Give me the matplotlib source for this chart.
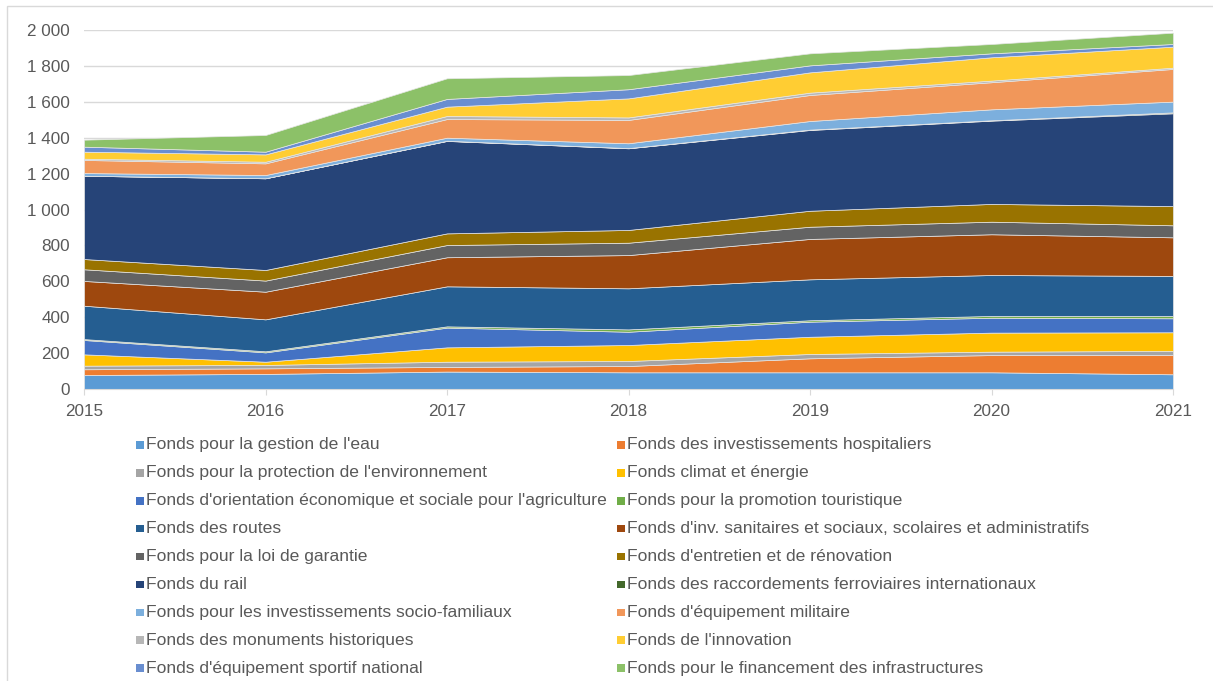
import numpy as np
import matplotlib.pyplot as plt
from matplotlib.patches import Rectangle
from matplotlib.ticker import FuncFormatter

plt.rcParams['font.family'] = ['Liberation Sans', 'DejaVu Sans']

years = [2015, 2016, 2017, 2018, 2019, 2020, 2021]

labels = [
    "Fonds pour la gestion de l'eau",
    "Fonds des investissements hospitaliers",
    "Fonds pour la protection de l'environnement",
    "Fonds climat et énergie",
    "Fonds d'orientation économique et sociale pour l'agriculture",
    "Fonds pour la promotion touristique",
    "Fonds des routes",
    "Fonds d'inv. sanitaires et sociaux, scolaires et administratifs",
    "Fonds pour la loi de garantie",
    "Fonds d'entretien et de rénovation",
    "Fonds du rail",
    "Fonds des raccordements ferroviaires internationaux",
    "Fonds pour les investissements socio-familiaux",
    "Fonds d'équipement militaire",
    "Fonds des monuments historiques",
    "Fonds de l'innovation",
    "Fonds d'équipement sportif national",
    "Fonds pour le financement des infrastructures",
]

# values per fund, 2015..2021
eau = [78, 84, 97, 93, 93, 93, 82]
hospitaliers = [32, 31, 26, 35, 78, 96, 107]
environnement = [20, 19, 29, 28, 24, 19, 23]
climat = [63, 18, 80, 89, 96, 106, 104]
agriculture = [80, 52, 110, 74, 84, 83, 78]
touristique = [5, 6, 7, 13, 8, 10, 13]
routes = [186, 178, 223, 229, 228, 228, 223]
sanitaires = [138, 154, 162, 185, 225, 227, 215]
garantie = [65, 62, 68, 69, 68, 70, 67]
entretien = [57, 59, 65, 71, 89, 99, 107]
rail = [464, 511, 515, 455, 450, 464, 517]
raccordements = [0, 0, 1, 1, 2, 2, 5]
socio_familiaux = [15, 18, 17, 27, 48, 61, 60]
militaire = [73, 65, 104, 130, 145, 151, 182]
monuments = [7, 9, 17, 14, 13, 9, 7]
innovation = [39, 41, 52, 106, 113, 130, 117]
sportif = [28, 15, 43, 51, 39, 22, 15]
infrastructures = [39, 93, 115, 79, 67, 52, 63]

series = [eau, hospitaliers, environnement, climat, agriculture, touristique,
          routes, sanitaires, garantie, entretien, rail, raccordements,
          socio_familiaux, militaire, monuments, innovation, sportif,
          infrastructures]

colors = ['#5B9BD5', '#ED7D31', '#A5A5A5', '#FFC000', '#4472C4', '#70AD47',
          '#255E91', '#9E480E', '#636363', '#997300', '#264478', '#43682B',
          '#7CAFDD', '#F1975A', '#B7B7B7', '#FFCD33', '#698ED0', '#8CC168']

W, H = 1213, 681
fig = plt.figure(figsize=(W / 100, H / 100), dpi=100)
ax = fig.add_axes([84 / W, 1 - 389 / H, (1173 - 84) / W, (389 - 30) / H])

ax.stackplot(years, *series, colors=colors, edgecolor='#e6e6e6', linewidth=0.5, zorder=2)

ax.set_xlim(2015, 2021)
ax.set_ylim(0, 2000)
ax.set_yticks(range(0, 2001, 200))
ax.yaxis.set_major_formatter(FuncFormatter(lambda v, p: f"{int(v):,}".replace(",", " ")))
ax.set_xticks(years)
ax.grid(axis='y', color='#d9d9d9', linewidth=1, zorder=0)
ax.set_axisbelow(True)
for s in ['top', 'right', 'left']:
    ax.spines[s].set_visible(False)
ax.spines['bottom'].set_color('#d9d9d9')
ax.tick_params(axis='y', length=0, pad=10, labelsize=12.3, labelcolor='#595959')
ax.tick_params(axis='x', length=4, color='#d9d9d9', pad=7, labelsize=12.3, labelcolor='#595959')

# legend, two columns
x_mark = [136, 617]
for i, lab in enumerate(labels):
    row, col = i // 2, i % 2
    y = 445 + row * 27.875
    x0 = x_mark[col]
    fig.add_artist(Rectangle((x0 / W, 1 - (y + 3.8) / H), 7.5 / W, 7.5 / H,
                             transform=fig.transFigure, color=colors[i], lw=0))
    fig.text((x0 + 10) / W, 1 - y / H, lab, fontsize=12.6, color='#595959',
             va='center', ha='left')

# outer chart border
fig.add_artist(Rectangle((7 / W, -0.05), 1.0, 1 - 6 / H + 0.05, transform=fig.transFigure,
                         fill=False, edgecolor='#d9d9d9', lw=1))

fig.savefig('out.png', dpi=100)
